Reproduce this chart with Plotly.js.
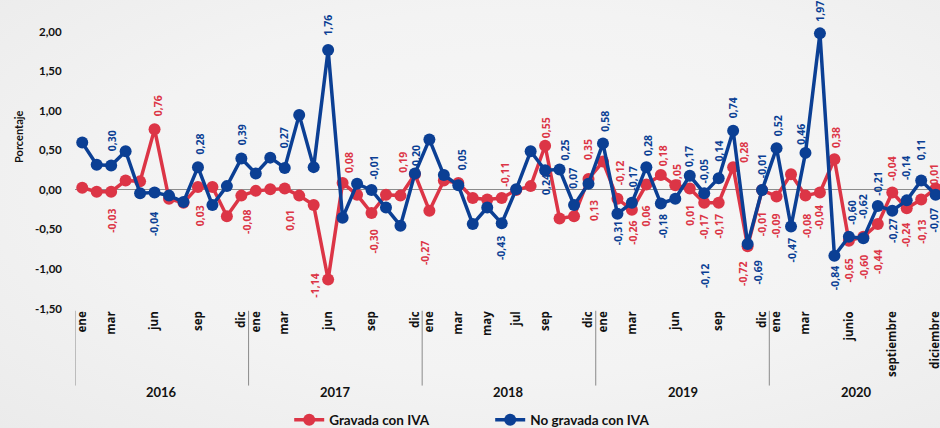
<!DOCTYPE html>
<html>
<head>
<meta charset="utf-8">
<script src="https://cdn.plot.ly/plotly-3.0.1.min.js"></script>
<style>
  html, body { margin:0; padding:0; }
  body { width:940px; height:428px; background: radial-gradient(ellipse at 55% 45%, #f7f7f7 0%, #f3f3f3 55%, #ebebeb 100%); }
  #chart { width:940px; height:428px; }
</style>
</head>
<body>
<div id="chart"></div>
<script>
// ---- data ----
var years = ['2016', '2017', '2018', '2019', '2020'];
var gravada = [
  0.02, -0.03, -0.03, 0.11, 0.10, 0.76, -0.12, -0.17, 0.03, 0.03, -0.34, -0.08,
  -0.02, 0.00, 0.01, -0.08, -0.20, -1.14, 0.08, -0.07, -0.30, -0.07, -0.08, 0.19,
  -0.27, 0.11, 0.08, -0.11, -0.13, -0.11, -0.01, 0.04, 0.55, -0.37, -0.34, 0.13,
  0.35, -0.12, -0.26, 0.06, 0.18, 0.05, 0.01, -0.17, -0.17, 0.28, -0.72, -0.01,
  -0.09, 0.19, -0.08, -0.04, 0.38, -0.65, -0.60, -0.44, -0.04, -0.24, -0.13, 0.01
];
var noGravada = [
  0.59, 0.31, 0.30, 0.48, -0.05, -0.04, -0.08, -0.16, 0.28, -0.20, 0.04, 0.39,
  0.20, 0.40, 0.27, 0.94, 0.28, 1.76, -0.36, 0.07, -0.01, -0.23, -0.46, 0.20,
  0.63, 0.18, 0.05, -0.44, -0.23, -0.43, 0.00, 0.48, 0.24, 0.25, -0.20, 0.07,
  0.58, -0.31, -0.17, 0.28, -0.18, -0.12, 0.17, -0.05, 0.14, 0.74, -0.69, -0.01,
  0.52, -0.47, 0.46, 1.97, -0.84, -0.60, -0.62, -0.21, -0.27, -0.14, 0.11, -0.07
];
var tickIdx = [0,2,5,8,11, 12,14,17,20,23, 24,26,28,30,32,35, 36,38,41,44,47, 48,50,53,56,59];
var tickTxt = ['ene','mar','jun','sep','dic', 'ene','mar','jun','sep','dic',
               'ene','mar','may','jul','sep','dic', 'ene','mar','jun','sep','dic',
               'ene','mar','junio','septiembre','diciembre'];
var yTicks = [2.0, 1.5, 1.0, 0.5, 0.0, -0.5, -1.0, -1.5];
var seriesNames = ['Gravada con IVA', 'No gravada con IVA'];

// label placement: [index, side (a=above, b=below), xshift, gap]
var redLabels = [
  [2,'b',0,15],[5,'a',3,11],[8,'b',2,16],[11,'b',5,12],[14,'b',5,19],[17,'b',-14,-8],
  [18,'a',7,8],[20,'b',2,15],[23,'a',-12,0],[24,'b',-5,28],[29,'a',3,9],[32,'a',1,5],
  [35,'b',5,19],[36,'a',-15,0],[37,'a',2,12],[38,'b',1,9],[39,'b',0,19],[40,'a',2,7],
  [41,'a',2,-2],[42,'b',0,14],[43,'b',0,10],[44,'b',0,10],[45,'a',10,2],[46,'b',-4,14],
  [47,'b',0,20],[48,'b',0,16],[50,'b',1,16],[51,'b',0,11],[52,'a',1,9],[53,'b',0,16],
  [54,'b',0,16],[55,'b',0,24],[56,'a',0,10],[57,'b',0,13],[58,'b',0,18],[59,'a',-2,2]
];
var blueLabels = [
  [2,'a',1,12],[5,'b',0,18],[8,'a',2,11],[11,'a',1,11],[14,'a',0,18],[17,'a',0,12],
  [20,'a',3,8],[23,'a',1,6],[26,'a',4,13],[29,'b',0,11],[32,'b',1,2],[33,'a',5,7],
  [35,'a',-15,-7],[36,'a',2,10],[37,'b',0,5],[38,'a',1,10],[39,'a',1,9],[40,'b',2,9],
  [41,'b',29,63],[42,'a',0,7],[43,'a',0,8],[44,'a',0,15],[45,'a',0,10],[46,'b',10,15],
  [47,'a',0,10],[48,'a',1,10],[49,'b',1,10],[50,'a',-4,6],[51,'a',0,10],[52,'b',0,8],
  [53,'a',3,10],[54,'a',0,18],[55,'a',0,8],[56,'b',0,6],[57,'a',0,18],[58,'a',0,18],[59,'b',-2,12]
];

// ---- styles ----
var RED = '#dc3546';
var BLUE = '#0b3f94';
var LABEL_FONT = 'Open Sans, sans-serif';
var ALT_FONT = 'Lato, Liberation Sans, sans-serif';

var xs = gravada.map(function(_, i){ return i; });

function fmt(v){
  return v.toFixed(2).replace('.', ',');
}

function makeLabels(spec, vals, color){
  return spec.map(function(s){
    var i = s[0], above = s[1] === 'a';
    return {
      x: i, y: vals[i], xref: 'x', yref: 'y',
      text: fmt(vals[i]), showarrow: false, textangle: -90,
      xanchor: 'center', yanchor: above ? 'bottom' : 'top',
      xshift: s[2], yshift: above ? s[3] : -s[3],
      font: {family: LABEL_FONT, size: 10.5, color: color, weight: 700}
    };
  });
}

var traces = [
  {x: xs, y: gravada, name: seriesNames[0], type: 'scatter', mode: 'lines+markers',
   line: {color: RED, width: 3.5}, marker: {color: RED, size: 12}, cliponaxis: false},
  {x: xs, y: noGravada, name: seriesNames[1], type: 'scatter', mode: 'lines+markers',
   line: {color: BLUE, width: 3.5}, marker: {color: BLUE, size: 12}, cliponaxis: false}
];

var annotations = [].concat(makeLabels(redLabels, gravada, RED), makeLabels(blueLabels, noGravada, BLUE));

// y tick labels (right aligned, ~12px left of plot area)
yTicks.forEach(function(v){
  annotations.push({x: 0, y: v, xref: 'paper', yref: 'y', text: fmt(v), showarrow: false,
    xanchor: 'right', yanchor: 'middle', xshift: -11,
    font: {family: ALT_FONT, size: 11.5, color: '#111', weight: 700}});
});

var shapes = [];
years.forEach(function(yr, k){
  shapes.push({type: 'line', xref: 'x', yref: 'paper', x0: k*12 - 0.5, x1: k*12 - 0.5,
               y0: -0.01, y1: -0.28, line: {color: '#8a8a8a', width: 1}});
  annotations.push({x: k*12 + 5.5, y: -0.303, xref: 'x', yref: 'paper', text: yr,
    showarrow: false, xanchor: 'center', yanchor: 'middle',
    font: {family: ALT_FONT, size: 13, color: '#111', weight: 700}});
});
annotations.push({x: -0.066, y: 0.66, xref: 'paper', yref: 'y', text: 'Porcentaje',
  showarrow: false, textangle: -90, xanchor: 'center', yanchor: 'middle',
  font: {family: ALT_FONT, size: 11, color: '#111', weight: 700}});

var layout = {
  width: 940, height: 428,
  margin: {l: 75, r: 0, t: 31, b: 120, autoexpand: false},
  paper_bgcolor: 'rgba(0,0,0,0)', plot_bgcolor: 'rgba(0,0,0,0)',
  separators: ',.',
  showlegend: true,
  legend: {orientation: 'h', x: 0.48, xanchor: 'center', y: -0.404, yanchor: 'middle',
           font: {family: ALT_FONT, size: 13.5, color: '#111', weight: 700},
           bgcolor: 'rgba(0,0,0,0)', entrywidth: 156},
  xaxis: {range: [-0.5, 59.3], showgrid: false, zeroline: false, showline: false,
          tickmode: 'array', tickvals: tickIdx, ticktext: tickTxt, tickangle: -90,
          ticks: '', ticklabeloverflow: 'allow',
          tickfont: {family: LABEL_FONT, size: 11.5, color: '#111', weight: 700}},
  yaxis: {range: [-1.5, 2.0], showgrid: false, showticklabels: false, ticks: '',
          zeroline: true, zerolinecolor: '#8c8c8c', zerolinewidth: 1.5, showline: false},
  annotations: annotations,
  shapes: shapes
};

Plotly.newPlot('chart', traces, layout, {displayModeBar: false, staticPlot: true});
</script>
</body>
</html>
